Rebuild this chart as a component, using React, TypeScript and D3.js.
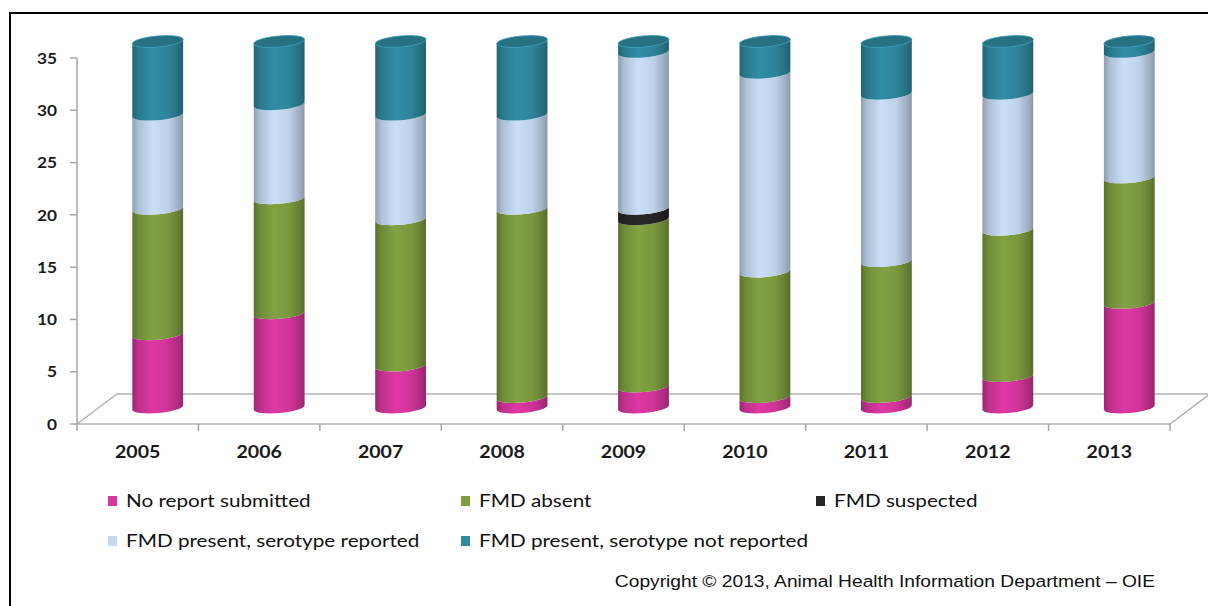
import React, { useEffect, useRef } from "react";
import * as d3 from "d3";

const years = ["2005", "2006", "2007", "2008", "2009", "2010", "2011", "2012", "2013"];
const noReport = [7, 9, 4, 1, 2, 1, 1, 3, 10];
const fmdAbsent = [12, 11, 14, 18, 16, 12, 13, 14, 12];
const fmdSuspected = [0, 0, 0, 0, 1, 0, 0, 0, 0];
const serotypeReported = [9, 9, 10, 9, 15, 19, 16, 13, 12];
const serotypeNotReported = [7, 6, 7, 7, 1, 3, 5, 5, 1];
const seriesNames = [
  "No report submitted",
  "FMD absent",
  "FMD suspected",
  "FMD present, serotype reported",
  "FMD present, serotype not reported",
];
const seriesColors = ["#d8369f", "#7e9d40", "#262626", "#c5d9f1", "#3089a0"];
const yTicks = [0, 5, 10, 15, 20, 25, 30, 35];

const App = () => {
  const ref = useRef<SVGSVGElement>(null);

  useEffect(() => {
    drawChart();
  }, []);

  const drawChart = () => {
    const w = 1208;
    const h = 606;
    const svg = d3.select(ref.current);
    svg.selectAll("*").remove();
    svg.attr("width", w).attr("height", h);

    const keys = ["s0", "s1", "s2", "s3", "s4"];
    const cols = [noReport, fmdAbsent, fmdSuspected, serotypeReported, serotypeNotReported];
    const rows = years.map((yr, i) => {
      const r: any = { year: yr };
      keys.forEach((k, j) => (r[k] = cols[j][i]));
      return r;
    });
    const stacked = d3.stack().keys(keys)(rows);

    const x = d3.scaleBand().domain(years).range([77, 1170]).padding(0);
    const y = d3.scaleLinear().domain([0, 35]).range([424, 58]);

    // depth of the 3d floor
    const depthX = 40;
    const depthY = -30;
    const barDx = depthX / 2;
    const barDy = depthY / 2 - 1.5;

    // frame
    svg.append("rect")
      .attr("x", 10).attr("y", 13)
      .attr("width", 1210).attr("height", 620)
      .attr("fill", "#fff")
      .attr("stroke", "#000")
      .attr("stroke-width", 2);

    // gradients for cylinder shading
    const defs = svg.append("defs");
    seriesColors.forEach((c, i) => {
      const g = defs.append("linearGradient")
        .attr("id", "grad" + i)
        .attr("x1", 0).attr("x2", 1).attr("y1", 0).attr("y2", 0);
      const base = d3.color(c)!;
      const stops = [
        [0, base.darker(0.9)],
        [0.12, base.darker(0.35)],
        [0.4, base.brighter(0.08)],
        [0.7, base.darker(0.1)],
        [0.9, base.darker(0.6)],
        [1, base.darker(1.0)],
      ];
      stops.forEach(([o, col]: any) => {
        g.append("stop").attr("offset", o).attr("stop-color", col.toString());
      });
    });

    // floor
    const floor = d3.path();
    floor.moveTo(x.range()[0], y(0));
    floor.lineTo(x.range()[0] + depthX, y(0) + depthY);
    floor.lineTo(x.range()[1] + depthX, y(0) + depthY);
    floor.lineTo(x.range()[1], y(0));
    floor.closePath();
    svg.append("path")
      .attr("d", floor.toString())
      .attr("fill", "#fff")
      .attr("stroke", "#b3b3b3")
      .attr("stroke-width", 1.5);

    // y axis
    svg.append("line")
      .attr("x1", 77).attr("x2", 77)
      .attr("y1", y(35)).attr("y2", y(0))
      .attr("stroke", "#a6a6a6").attr("stroke-width", 1.5);
    svg.selectAll(".ytick")
      .data(yTicks)
      .enter()
      .append("line")
      .attr("x1", 70).attr("x2", 77)
      .attr("y1", (d) => y(d)).attr("y2", (d) => y(d))
      .attr("stroke", "#a6a6a6").attr("stroke-width", 1.5);
    svg.selectAll(".ylab")
      .data(yTicks)
      .enter()
      .append("text")
      .attr("transform", (d) => `translate(57,${y(d)}) scale(1.08,1)`)
      .attr("dy", "0.36em")
      .attr("text-anchor", "end")
      .attr("font-family", "Lato, sans-serif")
      .attr("font-weight", "bold")
      .attr("font-size", 16)
      .attr("fill", "#1a1a1a")
      .text((d) => d);

    // x ticks and labels
    const xTickPos = years.map((yr) => x(yr)!).concat([x.range()[1]]);
    svg.selectAll(".xtick")
      .data(xTickPos)
      .enter()
      .append("line")
      .attr("x1", (d) => d).attr("x2", (d) => d)
      .attr("y1", y(0)).attr("y2", y(0) + 7)
      .attr("stroke", "#a6a6a6").attr("stroke-width", 1.5);
    svg.selectAll(".xlab")
      .data(years)
      .enter()
      .append("text")
      .attr("transform", (d) => `translate(${x(d)! + x.bandwidth() / 2},458) scale(1.12,1)`)
      .attr("text-anchor", "middle")
      .attr("font-family", "Lato, sans-serif")
      .attr("font-weight", "bold")
      .attr("font-size", 17.5)
      .attr("fill", "#1a1a1a")
      .text((d) => d);

    // cylinders
    const rx = x.bandwidth() * 0.21;
    const ry = 5.5;
    const tilt = -5; // degrees, right side a little higher
    const t = (tilt * Math.PI) / 180;
    const ex = rx * Math.cos(t);
    const ey = rx * Math.sin(t);

    const sidePath = (cx: number, y0: number, y1: number) => {
      // y0 = bottom, y1 = top (pixels)
      const p =
        `M${cx - ex},${y1 - ey}` +
        `L${cx - ex},${y0 - ey}` +
        `A${rx},${ry} ${tilt} 0 0 ${cx + ex},${y0 + ey}` +
        `L${cx + ex},${y1 + ey}` +
        `A${rx},${ry} ${tilt} 0 1 ${cx - ex},${y1 - ey}Z`;
      return p;
    };

    stacked.forEach((layer, li) => {
      svg.append("g")
        .selectAll("path")
        .data(layer.filter((d) => d[1] - d[0] > 0))
        .enter()
        .append("path")
        .attr("d", (d) => {
          const cx = x(d.data.year as any)! + x.bandwidth() / 2 + barDx;
          return sidePath(cx, y(d[0]) + barDy, y(d[1]) + barDy);
        })
        .attr("fill", "url(#grad" + li + ")");
    });

    // top caps
    const top = stacked[stacked.length - 1];
    svg.append("g")
      .selectAll("ellipse")
      .data(top)
      .enter()
      .append("ellipse")
      .attr("cx", (d) => x(d.data.year as any)! + x.bandwidth() / 2 + barDx)
      .attr("cy", (d) => y(d[1]) + barDy)
      .attr("rx", rx)
      .attr("ry", ry)
      .attr("transform", (d) => {
        const cx = x(d.data.year as any)! + x.bandwidth() / 2 + barDx;
        return `rotate(${tilt},${cx},${y(d[1]) + barDy})`;
      })
      .attr("fill", d3.color(seriesColors[4])!.darker(0.55).toString())
      .attr("stroke", d3.color(seriesColors[4])!.brighter(0.3).toString())
      .attr("stroke-width", 0.8);

    // legend
    const legendPos = [
      [108, 501],
      [461, 501],
      [816, 501],
      [108, 541],
      [461, 541],
    ];
    const legend = svg.append("g")
      .selectAll("g")
      .data(seriesNames)
      .enter()
      .append("g")
      .attr("transform", (d, i) => `translate(${legendPos[i][0]},${legendPos[i][1]})`);
    legend.append("rect")
      .attr("x", 0).attr("y", -5)
      .attr("width", 9).attr("height", 10)
      .attr("fill", (d, i) => seriesColors[i]);
    legend.append("text")
      .attr("transform", "translate(18,0) scale(1.15,1)")
      .attr("dy", "0.36em")
      .attr("font-family", "Lato, sans-serif")
      .attr("font-size", 18)
      .attr("fill", "#111")
      .text((d) => d);

    svg.append("text")
      .attr("transform", "translate(1155,587) scale(1.13,1)")
      .attr("text-anchor", "end")
      .attr("font-family", "'Liberation Sans', Arial, sans-serif")
      .attr("font-size", 17)
      .attr("fill", "#111")
      .text("Copyright © 2013, Animal Health Information Department – OIE");
  };

  return (
    <div style={{ position: "absolute", left: 0, top: 0 }}>
      <svg ref={ref} style={{ display: "block" }}></svg>
    </div>
  );
};

export default App;
